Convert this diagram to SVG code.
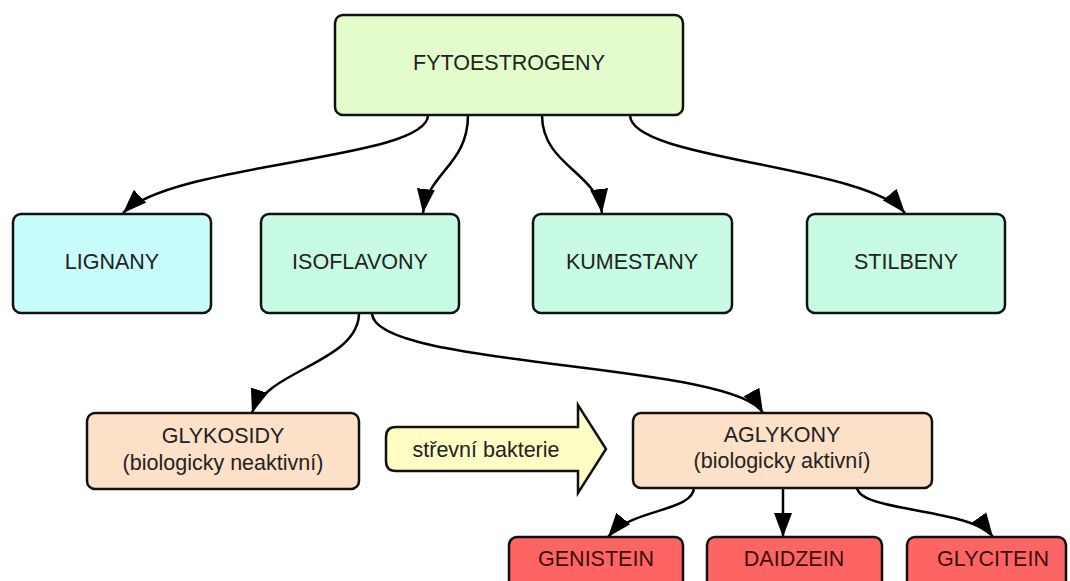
<svg xmlns="http://www.w3.org/2000/svg" width="1070" height="581" viewBox="0 0 1070 581">
<style>
.box{stroke:#111;stroke-width:2.5}
.t{font-family:"Liberation Sans",Arial,sans-serif;font-size:21.5px;fill:#222;text-anchor:middle}
.tr{fill:#3b0d0d}
.c{fill:none;stroke:#000;stroke-width:2.5;marker-end:url(#ah)}
</style>
<defs>
<marker id="ah" markerUnits="userSpaceOnUse" markerWidth="26" markerHeight="22" viewBox="0 0 26 22" refX="24" refY="11" orient="auto">
<path d="M0,2 L24,11 L0,20 Z" fill="#000"/>
</marker>
</defs>
<rect width="1070" height="581" fill="#fff"/>
<g id="connectors">
<path class="c" d="M428,115 C428,160 175,162 123,213"/>
<path class="c" d="M468,115 C468,165 428,172 423,213"/>
<path class="c" d="M542,115 C542,165 597,172 602,213"/>
<path class="c" d="M630,115 C630,160 865,165 905,213"/>
<path class="c" d="M359,313 C359,362 266,370 252,413"/>
<path class="c" d="M372,313 C372,368 735,362 763,413"/>
<path class="c" d="M694,487 C694,512 632,508 608,537"/>
<path class="c" d="M783,487 L783,537"/>
<path class="c" d="M857,487 C857,512 972,508 993,537"/>
</g>
<g id="fytoestrogeny">
<rect class="box" x="335" y="15" width="348" height="100" rx="8" fill="#e4fccb"/>
<text class="t" x="509" y="70">FYTOESTROGENY</text>
</g>
<g id="lignany">
<rect class="box" x="13" y="214" width="198" height="99" rx="8" fill="#c8fdfc"/>
<text class="t" x="112" y="269">LIGNANY</text>
</g>
<g id="isoflavony">
<rect class="box" x="261" y="214" width="198" height="99" rx="8" fill="#c8fbe3"/>
<text class="t" x="360" y="269">ISOFLAVONY</text>
</g>
<g id="kumestany">
<rect class="box" x="533" y="214" width="199" height="99" rx="8" fill="#c8fbe3"/>
<text class="t" x="632" y="269">KUMESTANY</text>
</g>
<g id="stilbeny">
<rect class="box" x="807" y="214" width="198" height="99" rx="8" fill="#c8fbe3"/>
<text class="t" x="906" y="269">STILBENY</text>
</g>
<g id="glykosidy">
<rect class="box" x="87" y="413" width="272" height="76" rx="8" fill="#fde0c8"/>
<text class="t" x="223" y="443">GLYKOSIDY</text>
<text class="t" x="223" y="470">(biologicky neaktivní)</text>
</g>
<g id="strevni-bakterie">
<path class="box" d="M396,427 L578,427 L578,405 L606,449 L578,493 L578,471 L396,471 Q386,471 386,461 L386,437 Q386,427 396,427 Z" fill="#fefdc4"/>
<text class="t" x="486" y="457">střevní bakterie</text>
</g>
<g id="aglykony">
<rect class="box" x="633" y="413" width="299" height="75" rx="8" fill="#fde0c8"/>
<text class="t" x="782" y="442">AGLYKONY</text>
<text class="t" x="782" y="468">(biologicky aktivní)</text>
</g>
<g id="genistein">
<rect class="box" x="509" y="537" width="174" height="60" rx="8" fill="#fd6565"/>
<text class="t tr" x="596" y="566">GENISTEIN</text>
</g>
<g id="daidzein">
<rect class="box" x="707" y="537" width="175" height="60" rx="8" fill="#fd6565"/>
<text class="t tr" x="794" y="566">DAIDZEIN</text>
</g>
<g id="glycitein">
<rect class="box" x="907" y="537" width="159" height="60" rx="8" fill="#fd6565"/>
<text class="t tr" x="993" y="566">GLYCITEIN</text>
</g>
</svg>
